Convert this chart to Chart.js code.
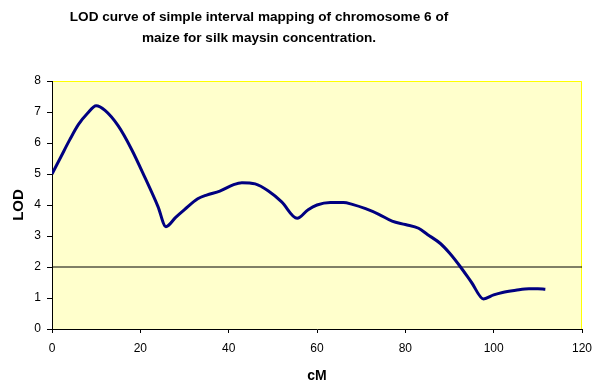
<!DOCTYPE html>
<html>
<head>
<meta charset="utf-8">
<script src="https://cdn.jsdelivr.net/npm/chart.js@4.4.1/dist/chart.umd.min.js"></script>
<style>
  html, body { margin: 0; padding: 0; background: #fff; }
  #wrap { width: 604px; height: 389px; }
</style>
</head>
<body>
<div id="wrap"><canvas id="myChart" width="604" height="389"></canvas></div>
<script>
// map positions (cM) along chromosome 6
let positions = [0, 2, 4, 6, 8, 10, 12, 15, 18, 21, 24, 25.8, 28, 30, 33, 35, 38, 41, 43, 46, 49, 52, 55.5,
    58, 60, 63, 66, 68, 71, 74, 77, 80, 83, 85, 88, 90, 92.5, 95, 97.7, 100, 102, 105, 108, 110, 111.7];
// LOD score at each position
let lodValues = [5.0, 5.55, 6.1, 6.6, 6.95, 7.2, 7.05, 6.55, 5.8, 4.9, 3.95, 3.3, 3.6, 3.85, 4.2, 4.32, 4.45, 4.65, 4.72, 4.68, 4.45, 4.1, 3.57,
    3.85, 4.0, 4.08, 4.08, 4.02, 3.88, 3.7, 3.48, 3.37, 3.25, 3.05, 2.75, 2.45, 2.0, 1.5, 0.97, 1.1, 1.18, 1.25, 1.3, 1.3, 1.28];
// significance threshold line
let thresholdX = [0, 120];
let thresholdY = [2, 2];

let titleLines = ['LOD curve of simple interval mapping of chromosome 6 of', 'maize for silk maysin concentration.'];

let curve = positions.map((x, i) => ({ x: x, y: lodValues[i] }));
let threshold = thresholdX.map((x, i) => ({ x: x, y: thresholdY[i] }));

const font = '"Liberation Sans", Arial, sans-serif';

// yellow plot area + title drawn by hand (Excel centres it off the plot)
const plotBg = {
    id: 'plotBg',
    beforeDraw(chart) {
        const { ctx, chartArea: a } = chart;
        ctx.save();
        ctx.fillStyle = '#FFFFCC';
        ctx.fillRect(a.left, a.top, a.right - a.left, a.bottom - a.top);
        ctx.strokeStyle = '#FFFF00';
        ctx.lineWidth = 1;
        ctx.beginPath();
        ctx.moveTo(a.left, a.top + 0.5);
        ctx.lineTo(a.right - 0.5, a.top + 0.5);
        ctx.lineTo(a.right - 0.5, a.bottom);
        ctx.stroke();
        ctx.restore();
    },
    afterDraw(chart) {
        const ctx = chart.ctx;
        ctx.save();
        ctx.fillStyle = '#000';
        ctx.font = 'bold 13.6px ' + font;
        ctx.textAlign = 'center';
        ctx.textBaseline = 'middle';
        ctx.fillText(titleLines[0], 259, 17);
        ctx.fillText(titleLines[1], 259, 38);
        ctx.restore();
    }
};

let myChart = document.getElementById('myChart').getContext('2d');

let chart = new Chart(myChart, {
    type: 'scatter',
    data: {
        datasets: [{
            data: curve,
            showLine: true,
            borderColor: '#000080',
            borderWidth: 3,
            pointRadius: 0,
            cubicInterpolationMode: 'monotone'
        }, {
            data: threshold,
            showLine: true,
            borderColor: '#000000',
            borderWidth: 1,
            pointRadius: 0
        }]
    },
    options: {
        responsive: false,
        animation: false,
        layout: { padding: { top: 81, right: 22, left: 0, bottom: 0 } },
        plugins: {
            legend: { display: false },
            tooltip: { enabled: false },
            title: { display: false }
        },
        scales: {
            x: {
                type: 'linear',
                min: 0,
                max: 120,
                afterFit(s) { s.height = 60; },
                ticks: {
                    stepSize: 20,
                    color: '#000',
                    padding: 8,
                    font: { family: font, size: 12 }
                },
                grid: { drawOnChartArea: false, tickLength: 4, color: '#000' },
                border: { color: '#000', width: 1 },
                title: {
                    display: true,
                    text: 'cM',
                    color: '#000',
                    padding: { top: 10 },
                    font: { family: font, size: 14, weight: 'bold' }
                }
            },
            y: {
                min: 0,
                max: 8,
                afterFit(s) { s.width = 52; },
                ticks: {
                    stepSize: 1,
                    color: '#000',
                    padding: 6,
                    font: { family: font, size: 12 }
                },
                grid: { drawOnChartArea: false, tickLength: 5, color: '#000' },
                border: { color: '#000', width: 1 },
                title: {
                    display: true,
                    text: 'LOD',
                    color: '#000',
                    padding: { top: 10 },
                    font: { family: font, size: 15, weight: 'bold' }
                }
            }
        }
    },
    plugins: [plotBg]
});
</script>
</body>
</html>
